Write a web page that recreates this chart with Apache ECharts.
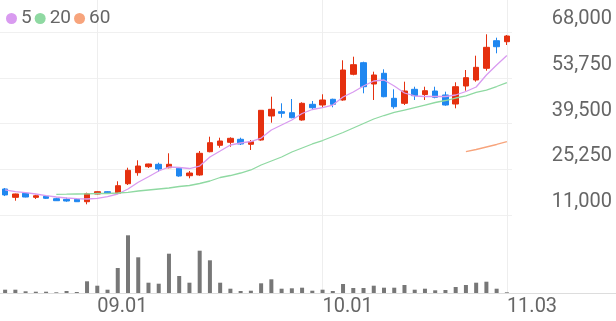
<!DOCTYPE html>
<html>
<head>
<meta charset="utf-8">
<script src="https://cdn.jsdelivr.net/npm/echarts@6/dist/echarts.min.js"></script>
<style>html,body{margin:0;padding:0;background:#fff}#c{width:616px;height:321px}</style>
</head>
<body>
<div id="c"></div>
<script>
var dates = ['08.21','08.22','08.23','08.24','08.25','08.28','08.29','08.30','08.31','09.01',
  '09.04','09.05','09.06','09.07','09.08','09.11','09.12','09.13','09.14','09.15',
  '09.18','09.19','09.20','09.21','09.22','09.25','09.26','09.27','09.28','09.29',
  '09.30','10.01','10.04','10.05','10.06','10.10','10.11','10.12','10.13','10.16',
  '10.17','10.18','10.19','10.20','10.23','10.24','10.25','10.26','10.27','11.03'];
var shownDates = ['09.01','10.01','11.03'];
// [open, close, low, high]
var ohlc = [
  [19100,17250,16900,19400],[16500,17550,15450,17650],[17750,16600,16500,17950],[16500,17000,16000,17300],
  [16820,16200,16000,17000],[16080,15450,15360,16390],[15890,15360,15140,16390],[15890,15140,15050,16200],
  [15140,17630,14330,17950],[17540,18260,17450,18380],[18260,17760,17670,18380],[17760,20130,17630,21500],
  [20750,24920,20340,25730],[24180,26260,23240,28040],[26040,26890,25640,26980],[26790,25330,24490,27290],
  [25730,26790,25550,30220],[25550,23150,22930,25860],[23240,24080,22430,24700],[23460,30220,23240,30930],
  [30720,33520,30530,35390],[32710,34050,31960,35080],[33640,34890,32270,35200],[34580,33120,32800,35080],
  [33020,33830,31250,34360],[34360,43610,34140,43700],[41840,43920,39750,47850],[43180,42680,41310,45790],
  [42860,41310,41120,47130],[40590,45790,40370,46100],[45480,44420,43700,46510],[45260,46820,44420,48600],
  [47040,45480,44550,47230],[46820,56160,46600,59190],[54830,57820,54510,60310],[58440,50960,48910,58750],
  [51800,54610,46820,55640],[55140,47850,47660,56380],[47350,44730,44110,50150],[45790,49620,45260,52520],
  [50150,48160,46820,50960],[48530,49720,46820,50960],[49620,47660,47350,50960],[48380,45260,45040,49410],
  [45570,50960,44230,52330],[51180,53770,49720,56160],[53050,57000,52520,60620],[56690,63230,55950,67280],
  [65290,63420,61370,66230],[64980,66750,63950,67070]
];
var ma5 = [18800,18260,17950,17540,17010,16610,16300,16080,15980,16200,
  16700,17540,19100,21190,22930,24700,25950,25800,25480,26260,
  29070,30930,32800,33430,33890,34980,37480,39030,40590,42610,
  43860,44420,45260,47750,49310,51180,52740,53050,51180,49000,
  48070,47910,47910,47910,48380,49470,50870,54610,57720,60680];
var ma20 = [null,null,null,null,null,17450,17480,17540,17600,17700,
  17700,17850,18070,18480,18790,19100,19410,19880,20190,20810,
  21590,22680,23300,24080,25020,26570,27820,29070,30620,31870,
  33120,34200,35450,36700,38100,39500,40900,41990,42930,43700,
  44480,45260,46040,46660,47440,48070,49160,49930,51020,52210];
var ma60 = [null,null,null,null,null,null,null,null,null,null,
  null,null,null,null,null,null,null,null,null,null,
  null,null,null,null,null,null,null,null,null,null,
  null,null,null,null,null,null,null,null,null,null,
  null,null,null,null,null,30720,31400,32180,32960,33830];
var volume = [66,66,34,26,26,14,40,20,234,146,66,500,1154,714,206,186,786,340,206,846,
  654,206,86,40,46,194,274,86,94,106,46,66,40,180,100,100,146,106,106,160,
  66,86,54,60,120,160,206,226,86,14];
var yTicks = {min: 11000, max: 68000, interval: 14250};

var RED = '#e5300f', BLUE = '#1f87f0';
var C5 = '#d99bf0', C20 = '#8fd9a2', C60 = '#f7a47c';
var isShown = function (i, v) { return shownDates.indexOf(v) >= 0; };

var chart = echarts.init(document.getElementById('c'), null, {renderer: 'canvas'});
chart.setOption({
  animation: false,
  textStyle: {fontFamily: 'Roboto'},
  legend: {
    data: ['5', '20', '60'], left: 1, top: 4, icon: 'circle', itemWidth: 11, itemHeight: 11,
    itemGap: 3, textStyle: {fontSize: 19, color: '#666', fontFamily: 'Roboto', padding: [0, 0, 0, -1]}
  },
  grid: [
    {left: 0, right: 104, top: 32, bottom: 106},
    {left: 0, right: 104, top: 215, bottom: 28},
    {left: 0, right: 0, top: 215, bottom: 28}
  ],
  xAxis: [
    {type: 'category', data: dates, gridIndex: 0, axisLine: {show: false}, axisTick: {show: false},
      axisLabel: {show: false}, splitLine: {show: false}},
    {type: 'category', data: dates, gridIndex: 1, axisLine: {show: false},
      axisTick: {show: true, inside: true, length: 293, alignWithLabel: true, interval: isShown,
        lineStyle: {color: '#eeeeee', width: 1}},
      axisLabel: {interval: isShown, align: 'left', color: '#666', fontSize: 20, margin: 4, fontFamily: 'Roboto'},
      splitLine: {show: false}},
    {type: 'value', gridIndex: 2, position: 'top', min: 0, max: 1, axisLine: {show: true, lineStyle: {color: '#e6e6e6'}},
      axisTick: {show: false}, axisLabel: {show: false}, splitLine: {show: false}},
    {type: 'value', gridIndex: 2, position: 'bottom', min: 0, max: 1, axisLine: {show: true, lineStyle: {color: '#dddddd'}},
      axisTick: {show: false}, axisLabel: {show: false}, splitLine: {show: false}}
  ],
  yAxis: [
    {type: 'value', gridIndex: 0, position: 'right', min: yTicks.min, max: yTicks.max, interval: yTicks.interval,
      axisLine: {show: false}, axisTick: {show: false},
      splitLine: {lineStyle: {color: '#f0f0f0'}},
      axisLabel: {align: 'right', margin: 100, verticalAlign: 'bottom', padding: [0, 0, 3, 0], color: '#666', fontSize: 20,
        fontFamily: 'Roboto', formatter: function (v) { return v.toLocaleString('en-US'); }}},
    {type: 'value', gridIndex: 1, min: 0, max: 1560, show: false, splitLine: {show: false}},
    {type: 'value', gridIndex: 2, min: 0, max: 1, show: false}
  ],
  series: [
    {type: 'candlestick', name: 'price', xAxisIndex: 0, yAxisIndex: 0, data: ohlc, barWidth: 6,
      itemStyle: {color: RED, color0: BLUE, borderColor: RED, borderColor0: BLUE, borderWidth: 1}},
    {type: 'line', name: '5', xAxisIndex: 0, yAxisIndex: 0, data: ma5, showSymbol: false, symbol: 'none',
      lineStyle: {color: C5, width: 1.3}, itemStyle: {color: C5}, z: 3},
    {type: 'line', name: '20', xAxisIndex: 0, yAxisIndex: 0, data: ma20, showSymbol: false, symbol: 'none',
      lineStyle: {color: C20, width: 1.3}, itemStyle: {color: C20}, z: 3},
    {type: 'line', name: '60', xAxisIndex: 0, yAxisIndex: 0, data: ma60, showSymbol: false, symbol: 'none',
      lineStyle: {color: C60, width: 1.3}, itemStyle: {color: C60}, z: 3},
    {type: 'bar', name: 'volume', xAxisIndex: 1, yAxisIndex: 1, data: volume, barWidth: 4,
      itemStyle: {color: '#777777'}}
  ]
});
</script>
</body>
</html>
